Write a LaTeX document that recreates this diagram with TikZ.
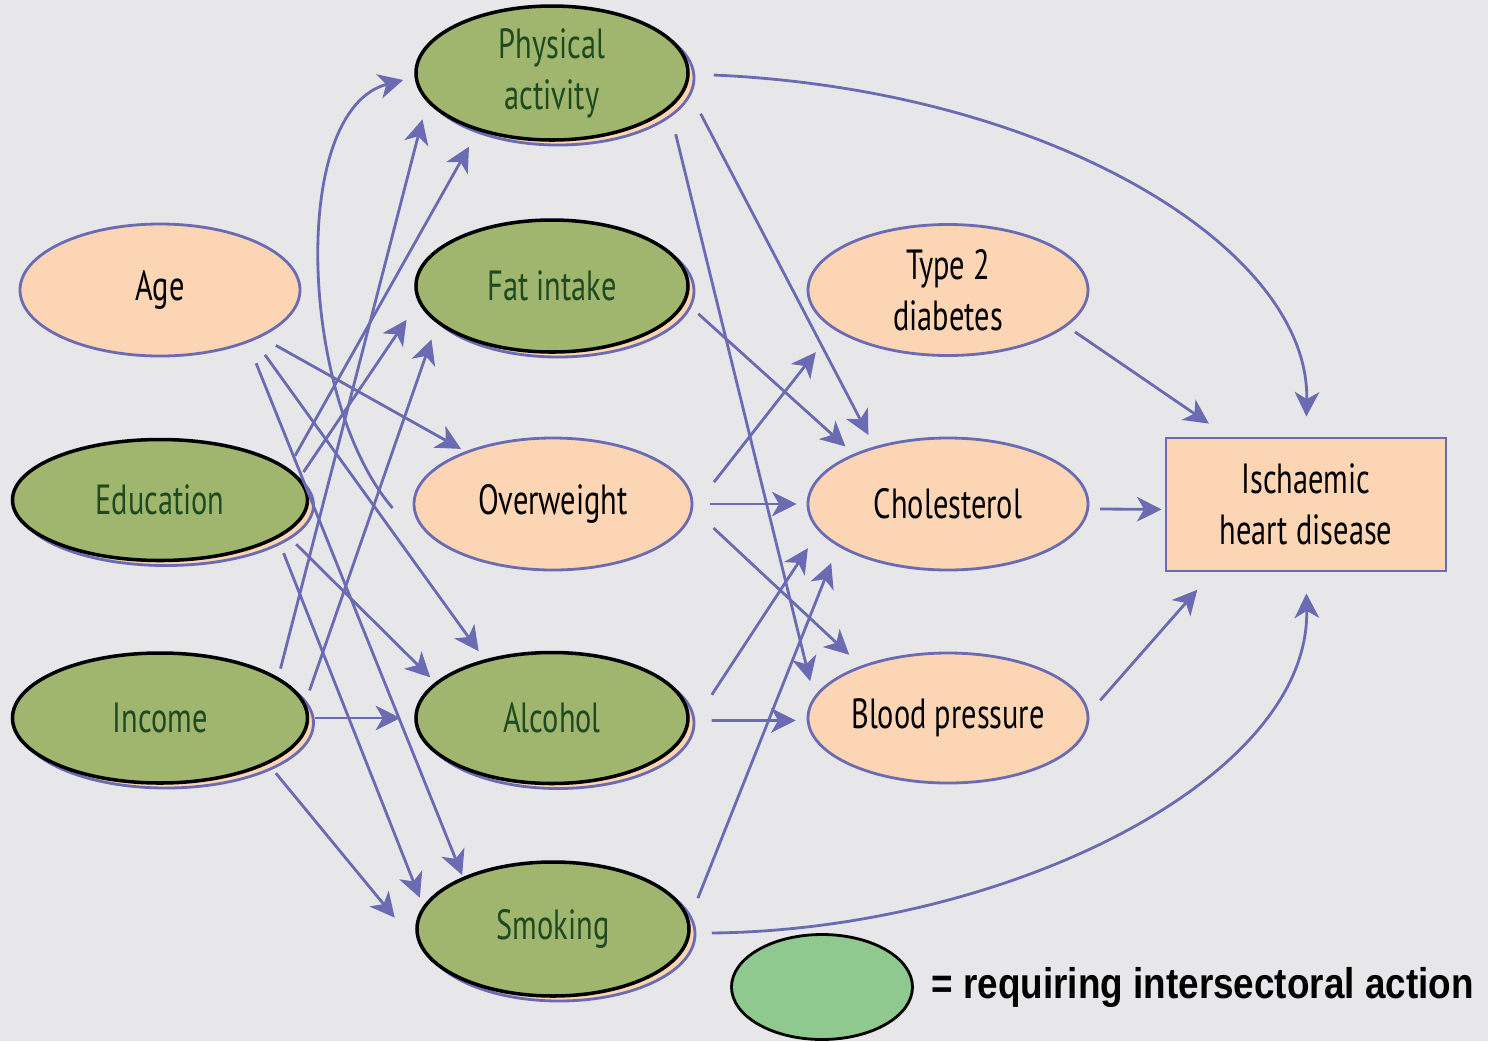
\documentclass[tikz,border=0pt]{standalone}
\usepackage{fontspec}
\usepackage{tikz}
\usetikzlibrary{arrows.meta, shapes.geometric, shadows}
\newfontfamily\condsans[FakeStretch=0.72]{PT Sans}
\newfontfamily\keyfont[FakeStretch=0.86]{Liberation Sans}
\definecolor{paneltone}{HTML}{E7E7EA}
\definecolor{riskpeach}{HTML}{FCD5B5}
\definecolor{linkblue}{HTML}{6B6BB3}
\definecolor{actiongreen}{HTML}{A0B66E}
\definecolor{actiontext}{HTML}{1F4A1F}
\definecolor{keygreen}{HTML}{8FC98F}

\begin{document}
\begin{tikzpicture}[
    risk/.style={ellipse, draw=linkblue, line width=0.8pt, fill=riskpeach, inner sep=0pt,
      minimum width=2.8cm, minimum height=1.32cm, align=center,
      font=\condsans\fontsize{12}{14.5}\selectfont},
    action/.style={risk, draw=black, fill=actiongreen, text=actiontext, line width=1pt,
      minimum width=2.72cm, minimum height=1.34cm,
      general shadow={fill=riskpeach, draw=linkblue, line width=0.8pt,
        shadow xshift=0.06cm, shadow yshift=-0.05cm}},
    outcome/.style={risk, rectangle, minimum height=1.33cm},
    flow/.style={draw=linkblue, line width=0.8pt, -{Stealth[length=7pt, width=7pt, inset=2pt]}}
  ]
  % Panel
  \fill[paneltone] (0,0) rectangle (14.88,-10.41);
  \useasboundingbox (0,0) rectangle (14.88,-10.41);

  % Distal determinants
  \node[risk] (age) at (1.60,-2.90) {Age};
  \node[action, minimum width=2.95cm, minimum height=1.21cm] (edu) at (1.60,-5.00) {Education};
  \node[action, minimum width=2.95cm, minimum height=1.30cm] (inc) at (1.60,-7.18) {Income};

  % Behaviours
  \node[action] (pa) at (5.52,-0.73) {Physical\\activity};
  \node[action, minimum height=1.32cm] (fat) at (5.52,-2.86) {Fat intake};
  \node[risk, minimum width=2.78cm] (ow) at (5.53,-5.04) {Overweight};
  \node[action, minimum height=1.31cm] (alc) at (5.52,-7.18) {Alcohol};
  \node[action] (smk) at (5.53,-9.29) {Smoking};

  % Physiological factors
  \node[risk, minimum height=1.31cm] (t2d) at (9.48,-2.90) {Type 2\\diabetes};
  \node[risk] (chol) at (9.48,-5.04) {Cholesterol};
  \node[risk, minimum height=1.30cm] (bp) at (9.48,-7.18) {Blood pressure};

  % Outcome
  \node[outcome] (ihd) at (13.06,-5.045) {Ischaemic\\heart disease};

  % Straight links: from/angle/to/angle/gap at start/gap at end
  \foreach \a/\p/\b/\q/\s/\t in {
      age/-25/ow/149/0.17cm/0.05cm, age/-28/alc/139/0.18cm/0.10cm, age/-31/smk/150/0.22cm/0.02cm,
      edu/14/pa/218/0.14cm/0.18cm, edu/9/fat/187/0.07cm/0.21cm,
      edu/-15/alc/163/0.15cm/0.07cm, edu/-18/smk/170/0.16cm/0.09cm,
      inc/19/pa/193/0.09cm/0.18cm, inc/6/fat/198/0.13cm/0.17cm,
      inc/0/alc/180/0.06cm/0.14cm, inc/-23/smk/191/0.12cm/0.47cm,
      pa/-17/bp/171/0.26cm/0.16cm, pa/-6/chol/142/0.30cm/0.13cm,
      fat/-7/chol/152/0.17cm/0.11cm,
      ow/-2/t2d/199/0.34cm/0.29cm, ow/0/chol/180/0.17cm/0.10cm, ow/-2/bp/149/0.28cm/0.16cm,
      alc/-8/chol/192/0.50cm/0.20cm, alc/-1/bp/181/0.22cm/0.11cm,
      smk/4/chol/201/0.23cm/0.18cm,
      t2d/-17/ihd/139/0.10cm/0.23cm, chol/-2/ihd/182/0.11cm/0.03cm, bp/2/ihd/216/0.17cm/0.23cm} {
    \draw[flow, shorten <=\s, shorten >=\t] (\a.\p) -- (\b.\q);
  }

  % Curved links
  \draw[flow] ([shift={(-0.20,-0.04)}]ow.west) .. controls +(-0.93,1.08) and +(-1.15,-0.30) .. ([shift={(-0.11,-0.07)}]pa.west);
  \draw[flow, shorten >=0.2cm] ([shift={(0.24,-0.02)}]pa.east) .. controls +(3.38,-0.15) and +(0.04,1.88) .. (ihd.north);
  \draw[flow, shorten >=0.21cm] ([shift={(0.21,-0.04)}]smk.east) .. controls +(2.9,0.03) and +(0.04,-2.09) .. (ihd.south);

  % Key
  \node[ellipse, draw=black, line width=0.8pt, fill=keygreen, minimum width=1.81cm, minimum height=1.05cm] (key) at (8.22,-9.87) {};
  \node[anchor=west, inner sep=0pt, font=\keyfont\bfseries\fontsize{12.2}{14}\selectfont] (keytext) at (9.31,-9.87) {= requiring intersectoral action};
\end{tikzpicture}
\end{document}
